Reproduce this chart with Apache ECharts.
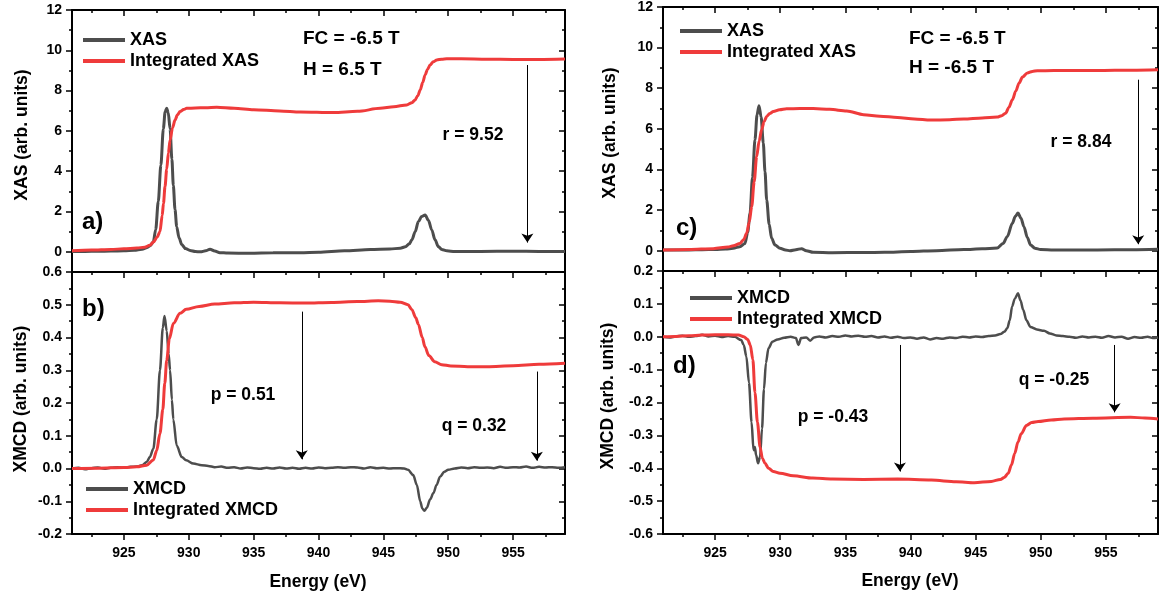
<!DOCTYPE html>
<html><head><meta charset="utf-8">
<script src="https://cdn.jsdelivr.net/npm/echarts@6/dist/echarts.min.js"></script>
<style>html,body{margin:0;padding:0;background:#fff}#c{width:1164px;height:599px}</style>
</head><body><div id="c"></div>
<script>
// ---------- axis ticks ----------
const X_MIN = 921, X_MAX = 959;
const xMajor = [925, 930, 935, 940, 945, 950, 955];
const xMinor = [922.5, 927.5, 932.5, 937.5, 942.5, 947.5, 952.5, 957.5];
const yXasMajor = [0, 2, 4, 6, 8, 10, 12];
const yXasMinor = [1, 3, 5, 7, 9, 11];
const yMcdBMajor = [-0.2, -0.1, 0, 0.1, 0.2, 0.3, 0.4, 0.5, 0.6];
const yMcdBMinor = [-0.15, -0.05, 0.05, 0.15, 0.25, 0.35, 0.45, 0.55];
const yMcdDMajor = [-0.6, -0.5, -0.4, -0.3, -0.2, -0.1, 0, 0.1, 0.2];
const yMcdDMinor = [-0.55, -0.45, -0.35, -0.25, -0.15, -0.05, 0.05, 0.15];

// ---------- panel a: XAS, FC=-6.5T, H=6.5T ----------
const xasA = [[921,0.02],[922,0.02],[923,0.03],[924,0.04],[925,0.05],[925.8,0.08],[926.4,0.13],[926.8,0.22],[927.05,0.32],[927.27,0.5],[927.45,1.1],[927.65,2.5],[927.85,4.3],[928.04,6.1],[928.18,6.95],[928.3,7.12],[928.42,6.9],[928.56,6.1],[928.7,4.6],[928.81,3.3],[928.94,2.1],[929.07,1.25],[929.25,0.7],[929.46,0.36],[929.75,0.16],[930.1,0.07],[930.5,0.02],[930.9,0.0],[931.3,0.05],[931.64,0.13],[932.0,0.04],[932.4,-0.04],[933,-0.06],[934.7,-0.07],[936.5,-0.05],[938.6,-0.04],[940,-0.02],[942,0.05],[944,0.12],[945.5,0.14],[946.3,0.18],[946.7,0.25],[947.0,0.4],[947.2,0.6],[947.45,1.0],[947.7,1.5],[947.95,1.75],[948.22,1.83],[948.48,1.55],[948.73,1.09],[948.98,0.6],[949.24,0.26],[949.5,0.12],[949.89,0.05],[950.5,0.02],[952.5,0.02],[955,0.03],[957,0.02],[959,0.02]];
const intA = [[921,0.06],[922.5,0.09],[924,0.12],[925,0.15],[926,0.19],[926.6,0.23],[927.0,0.33],[927.3,0.5],[927.55,0.72],[927.78,1.0],[927.95,1.8],[928.05,2.4],[928.17,3.24],[928.3,4.1],[928.43,4.9],[928.56,5.55],[928.75,6.15],[928.94,6.54],[929.13,6.8],[929.33,6.96],[929.6,7.06],[929.84,7.12],[930.5,7.14],[931.3,7.15],[932.16,7.17],[933.5,7.12],[935,7.05],[937,6.99],[938.6,6.94],[941.15,6.91],[943,6.97],[944.75,7.12],[945.8,7.2],[946.8,7.29],[947.2,7.4],[947.45,7.54],[947.65,7.75],[947.84,8.03],[948.03,8.4],[948.22,8.78],[948.4,9.05],[948.6,9.27],[948.85,9.43],[949.12,9.52],[949.5,9.56],[949.89,9.58],[951,9.58],[953,9.56],[955,9.55],[957,9.55],[959,9.57]];
const arrowA = [[956.1, 9.27, 0.46]];

// ---------- panel b: XMCD, FC=-6.5T, H=6.5T ----------
const mcdB = [[921,0.0],[921.5,0.002],[922,-0.002],[922.5,0.001],[923,0.003],[923.5,-0.001],[924,0.002],[924.5,0.004],[925,0.002],[925.5,0.005],[926,0.006],[926.4,0.01],[926.76,0.02],[927.0,0.035],[927.27,0.06],[927.53,0.15],[927.78,0.3],[928.0,0.43],[928.13,0.466],[928.3,0.42],[928.45,0.35],[928.56,0.3],[928.7,0.21],[928.81,0.15],[929.07,0.07],[929.46,0.035],[929.8,0.025],[930.35,0.015],[931,0.01],[931.5,0.008],[932,0.004],[932.5,0.006],[933,0.002],[933.5,0.004],[934,0.0],[934.5,0.003],[935,0.001],[935.5,-0.001],[936,0.002],[936.5,0.0],[937,0.003],[937.5,0.0],[938,0.002],[938.5,-0.001],[939,0.002],[939.5,0.0],[940,0.003],[940.5,0.001],[941,0.002],[941.5,0.004],[942,0.002],[942.5,0.004],[943,0.003],[943.5,0.0],[944,0.004],[944.5,0.001],[945,0.002],[945.5,0.0],[946,0.001],[946.6,0.0],[946.9,-0.004],[947.3,-0.02],[947.58,-0.05],[947.84,-0.1],[948.0,-0.122],[948.16,-0.129],[948.35,-0.12],[948.6,-0.095],[948.86,-0.075],[949.1,-0.05],[949.37,-0.025],[949.7,-0.01],[950,-0.004],[950.5,0.0],[951,0.003],[951.5,0.001],[952,0.004],[952.5,0.002],[953,0.003],[953.5,0.001],[954,0.005],[954.5,0.002],[955,0.004],[955.5,0.003],[956,0.006],[956.5,0.002],[957,0.005],[957.5,0.003],[958,0.004],[958.5,0.002],[959,0.004]];
const intB = [[921,0.0],[923,0.001],[925,0.003],[926,0.005],[926.76,0.01],[927.27,0.026],[927.53,0.055],[927.78,0.107],[928.0,0.18],[928.15,0.26],[928.3,0.33],[928.5,0.395],[928.81,0.443],[929.33,0.474],[929.8,0.486],[930.8,0.495],[932,0.502],[933.5,0.506],[935,0.508],[937,0.506],[939,0.505],[941,0.507],[943,0.51],[944.6,0.512],[945.5,0.511],[946.3,0.508],[946.9,0.5],[947.2,0.485],[947.5,0.46],[947.7,0.44],[948.0,0.4],[948.2,0.372],[948.5,0.345],[948.96,0.326],[949.5,0.317],[950.2,0.313],[951.5,0.311],[953,0.311],[955,0.314],[957,0.318],[959,0.321]];
const arrowB = [[938.71, 0.479, 0.028], [956.83, 0.296, 0.024]];

// ---------- panel c: XAS, FC=-6.5T, H=-6.5T ----------
const xasC = [[921,0.03],[922,0.03],[923,0.04],[924,0.05],[925,0.06],[925.8,0.08],[926.4,0.12],[926.9,0.2],[927.29,0.35],[927.5,0.9],[927.68,1.84],[927.87,3.6],[928.06,5.46],[928.22,6.7],[928.37,7.14],[928.53,6.6],[928.7,5.3],[928.83,3.9],[928.96,2.5],[929.15,1.3],[929.34,0.61],[929.6,0.28],[929.98,0.12],[930.4,0.03],[930.75,0.0],[931.2,0.05],[931.64,0.1],[932.0,0.0],[932.53,-0.08],[934,-0.1],[936.4,-0.09],[938,-0.08],[940,-0.04],[942,0.0],[944.1,0.06],[945.5,0.09],[946.66,0.13],[947.1,0.35],[947.43,0.69],[947.82,1.35],[948.05,1.7],[948.25,1.85],[948.48,1.6],[948.71,1.18],[948.97,0.65],[949.22,0.28],[949.55,0.12],[949.99,0.06],[951,0.04],[954.34,0.04],[957,0.05],[959,0.07]];
const intC = [[921,0.03],[923,0.06],[924.86,0.1],[926.0,0.18],[926.4,0.24],[926.91,0.36],[927.2,0.55],[927.42,0.86],[927.62,1.4],[927.81,2.17],[928.0,3.4],[928.19,4.64],[928.38,5.4],[928.57,5.95],[928.76,6.35],[928.96,6.61],[929.2,6.76],[929.47,6.85],[929.95,6.94],[930.49,6.99],[931.5,7.0],[932.53,7.0],[933.8,6.96],[935.1,6.88],[936.4,6.7],[937.65,6.62],[939,6.56],[940.3,6.49],[941.55,6.43],[943,6.45],[944.1,6.49],[945.5,6.54],[946.66,6.58],[947.0,6.65],[947.3,6.77],[947.55,7.05],[947.82,7.43],[948.08,7.85],[948.33,8.25],[948.6,8.55],[948.97,8.75],[949.35,8.83],[949.74,8.86],[951,8.87],[954.34,8.87],[957,8.89],[959,8.91]];
const arrowC = [[957.48, 8.42, 0.32]];

// ---------- panel d: XMCD, FC=-6.5T, H=-6.5T ----------
const mcdD = [[921,0.0],[921.5,-0.002],[922,0.001],[922.5,0.003],[923,0.0],[923.5,0.002],[924,0.006],[924.5,0.001],[925,0.003],[925.5,-0.001],[926,0.002],[926.5,0.0],[927.0,-0.01],[927.2,-0.025],[927.4,-0.06],[927.6,-0.14],[927.8,-0.26],[927.95,-0.345],[928.05,-0.335],[928.15,-0.36],[928.3,-0.385],[928.45,-0.365],[928.6,-0.28],[928.75,-0.16],[928.9,-0.08],[929.1,-0.035],[929.4,-0.015],[929.8,-0.008],[930.3,-0.003],[930.8,0.0],[931.2,-0.004],[931.4,-0.025],[931.6,-0.004],[932.0,-0.002],[932.3,-0.012],[932.6,-0.002],[933,0.001],[933.5,-0.002],[934,0.002],[934.5,0.0],[935,0.004],[935.5,0.001],[936,0.003],[936.5,0.0],[937,0.002],[937.5,-0.002],[938,0.001],[938.5,-0.003],[939,0.0],[939.5,-0.004],[940,-0.002],[940.5,-0.006],[941,-0.002],[941.5,-0.008],[942,-0.004],[942.5,-0.006],[943,-0.002],[943.5,-0.004],[944,0.0],[944.5,-0.002],[945,0.001],[945.5,-0.001],[946,0.002],[946.5,0.004],[946.9,0.008],[947.2,0.015],[947.43,0.026],[947.62,0.05],[947.8,0.092],[948.0,0.115],[948.25,0.132],[948.45,0.11],[948.65,0.082],[948.9,0.05],[949.2,0.03],[949.7,0.022],[950.25,0.018],[950.7,0.01],[951.2,0.004],[951.7,0.002],[952.2,0.0],[952.7,-0.003],[953.2,0.001],[953.7,-0.002],[954.2,0.0],[954.7,-0.003],[955.2,0.002],[955.7,-0.002],[956.2,0.0],[956.7,-0.006],[957.2,-0.001],[957.7,-0.003],[958.2,0.0],[958.6,-0.004],[959,-0.002]];
const intD = [[921,0.0],[922,0.001],[923,0.003],[924,0.005],[925,0.006],[926,0.006],[926.8,0.005],[927.2,0.0],[927.5,-0.008],[927.7,-0.025],[927.9,-0.07],[928.06,-0.17],[928.25,-0.26],[928.45,-0.335],[928.63,-0.37],[928.83,-0.385],[929.1,-0.4],[929.47,-0.41],[929.98,-0.415],[931,-0.423],[932.5,-0.43],[934,-0.433],[936.4,-0.434],[939,-0.433],[941.6,-0.436],[943.5,-0.441],[944.9,-0.444],[946.2,-0.44],[946.9,-0.434],[947.2,-0.428],[947.5,-0.415],[947.75,-0.39],[948.0,-0.355],[948.25,-0.32],[948.5,-0.295],[948.9,-0.27],[949.3,-0.261],[949.8,-0.258],[950.8,-0.253],[951.8,-0.25],[954,-0.248],[956.9,-0.245],[958,-0.247],[959,-0.25]];
const arrowD = [[939.19, -0.025, -0.41], [955.67, -0.025, -0.23]];

// ---------- styling ----------
const FONT = '"Liberation Sans", Arial, Helvetica, sans-serif';
const GRAY = '#4d4d4d', RED = '#ef3b3b';
const tickLine = {color: '#000', width: 1.5};
const lblStyle = {color: '#000', fontSize: 14, fontWeight: 'bold', fontFamily: FONT};

const grids = [
  {left: 72, top: 10, width: 493, height: 262},
  {left: 72, top: 272, width: 493, height: 262},
  {left: 663, top: 7, width: 495, height: 264},
  {left: 663, top: 271, width: 495, height: 263}
];
const yCfg = [
  {min: -1, max: 12, major: yXasMajor, minor: yXasMinor, fmt: v => String(v)},
  {min: -0.2, max: 0.6, major: yMcdBMajor, minor: yMcdBMinor, fmt: v => v.toFixed(1)},
  {min: -1, max: 12, major: yXasMajor, minor: yXasMinor, fmt: v => String(v)},
  {min: -0.6, max: 0.2, major: yMcdDMajor, minor: yMcdDMinor, fmt: v => v.toFixed(1)}
];

const xAxis = [], yAxis = [];
function axisSet(g, kind, min, max, major, minor, showLabels, fmt) {
  const isX = kind === 'x';
  const sides = isX ? ['bottom', 'top'] : ['left', 'right'];
  const out = [];
  sides.forEach((pos, si) => {
    const inside = si === 1;
    out.push({
      gridIndex: g, type: 'value', min, max, position: pos,
      splitLine: {show: false},
      axisLine: {show: true, onZero: false, lineStyle: {color: '#000', width: 2}},
      axisTick: {show: true, inside, length: 6, customValues: major, lineStyle: tickLine},
      axisLabel: (showLabels && si === 0) ? Object.assign({show: true, customValues: major, margin: isX ? 12 : 10, formatter: fmt}, lblStyle) : {show: false}
    });
    out.push({
      gridIndex: g, type: 'value', min, max, position: pos,
      splitLine: {show: false},
      axisLine: {show: false, onZero: false},
      axisTick: {show: true, inside, length: 3, customValues: minor, lineStyle: tickLine},
      axisLabel: {show: false}
    });
  });
  return out;
}
for (let g = 0; g < 4; g++) {
  xAxis.push(...axisSet(g, 'x', X_MIN, X_MAX, xMajor, xMinor, g === 1 || g === 3, v => String(v)));
  const c = yCfg[g];
  yAxis.push(...axisSet(g, 'y', c.min, c.max, c.major, c.minor, true, c.fmt));
}

function arrows(list) {
  return {
    silent: true, animation: false, symbol: ['none', 'arrow'], symbolSize: 9,
    label: {show: false}, emphasis: {disabled: true},
    lineStyle: {color: '#000', width: 1, type: 'solid'},
    data: list.map(a => [{coord: [a[0], a[1]]}, {coord: [a[0], a[2]]}])
  };
}
function line(name, g, data, color, width, ml) {
  const s = {
    name, type: 'line', xAxisIndex: g * 4, yAxisIndex: g * 4, data,
    showSymbol: false, symbol: 'none', smooth: 0.3, smoothMonotone: 'x',
    lineStyle: {color, width}, itemStyle: {color}, emphasis: {disabled: true}, silent: true
  };
  if (ml) s.markLine = ml;
  return s;
}
const series = [
  line('XAS', 0, xasA, GRAY, 3),
  line('Integrated XAS', 0, intA, RED, 3, arrows(arrowA)),
  line('XMCD', 1, mcdB, GRAY, 2.5),
  line('Integrated XMCD', 1, intB, RED, 3, arrows(arrowB)),
  line('XAS', 2, xasC, GRAY, 3),
  line('Integrated XAS', 2, intC, RED, 3, arrows(arrowC)),
  line('XMCD', 3, mcdD, GRAY, 2.5),
  line('Integrated XMCD', 3, intD, RED, 3, arrows(arrowD))
];

function legend(names, left, top) {
  return {
    data: names, left, top, orient: 'vertical', icon: 'rect', itemWidth: 42, itemHeight: 4,
    itemGap: 1, selectedMode: false, padding: 0,
    textStyle: {color: '#000', fontSize: 18, fontWeight: 'bold', fontFamily: FONT, lineHeight: 20}
  };
}

function txt(text, x, y, size, align, rot) {
  return {
    type: 'text', x, y, rotation: rot || 0, silent: true,
    style: {text, fill: '#000', font: 'bold ' + size + 'px ' + FONT, align: align || 'left', verticalAlign: 'middle',
            textAlign: align || 'left', textVerticalAlign: 'middle'}
  };
}
const graphic = [
  txt('XAS (arb. units)', 22, 135, 17.5, 'center', Math.PI / 2),
  txt('XMCD (arb. units)', 21, 399, 17.5, 'center', Math.PI / 2),
  txt('XAS (arb. units)', 610, 133, 17.5, 'center', Math.PI / 2),
  txt('XMCD (arb. units)', 608, 396, 17.5, 'center', Math.PI / 2),
  txt('Energy (eV)', 318, 582, 17.5, 'center'),
  txt('Energy (eV)', 910, 581, 17.5, 'center'),
  txt('FC = -6.5 T', 303, 39, 19, 'left'),
  txt('H = 6.5 T', 303, 70, 19, 'left'),
  txt('FC = -6.5 T', 909, 39, 19, 'left'),
  txt('H = -6.5 T', 909, 68, 19, 'left'),
  txt('r = 9.52', 473, 135, 17.5, 'center'),
  txt('r = 8.84', 1081, 142, 17.5, 'center'),
  txt('p = 0.51', 243, 395, 17.5, 'center'),
  txt('q = 0.32', 474, 426, 17.5, 'center'),
  txt('p = -0.43', 833, 417, 17.5, 'center'),
  txt('q = -0.25', 1054, 380, 17.5, 'center'),
  txt('a)', 82, 222, 24, 'left'),
  txt('b)', 82, 309, 24, 'left'),
  txt('c)', 676, 228, 24, 'left'),
  txt('d)', 673, 366, 24, 'left')
];

const chart = echarts.init(document.getElementById('c'), null, {renderer: 'canvas'});
chart.setOption({
  animation: false,
  backgroundColor: '#fff',
  grid: grids,
  xAxis, yAxis, series,
  legend: [
    legend(['XAS', 'Integrated XAS'], 83, 30),
    legend(['XMCD', 'Integrated XMCD'], 86, 479),
    legend(['XAS', 'Integrated XAS'], 680, 21),
    legend(['XMCD', 'Integrated XMCD'], 690, 288)
  ],
  graphic
});
</script>
</body></html>
